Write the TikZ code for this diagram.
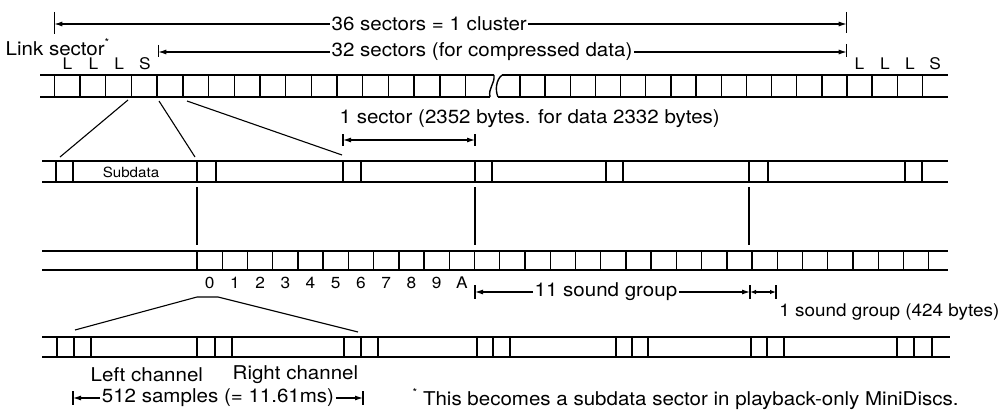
\documentclass[tikz,border=0pt]{standalone}
\usepackage{fontspec}
\setmainfont{TeX Gyre Heros}[FakeStretch=1.08]
\usetikzlibrary{arrows.meta}
\tikzset{
  ln/.style={line width=1.4pt},
  thin ln/.style={line width=1.1pt},
  tickmark/.style={line width=1.2pt},
  dimline/.style={line width=1.1pt,-{Latex[length=8pt,width=5pt]}},
  dimboth/.style={line width=1.1pt,{Latex[length=8pt,width=5pt]}-{Latex[length=8pt,width=5pt]}},
  dimsmall/.style={line width=1.1pt,{Latex[length=6pt,width=4.5pt]}-{Latex[length=6pt,width=4.5pt]}},
  lbl/.style={font=\fontsize{19}{21}\selectfont, inner sep=1.5pt},
  cell lbl/.style={font=\fontsize{16}{18}\selectfont, inner sep=0pt},
  sub lbl/.style={font=\fontsize{14}{16}\selectfont, inner sep=0pt},
}
\begin{document}
\begin{tikzpicture}[x=1pt,y=-1pt]
\useasboundingbox (0,0) rectangle (1003,412);

% ---------- top dimension arrows ----------
\node[lbl,anchor=west] (t36) at (330,24) {36 sectors = 1 cluster};
\coordinate (t36L) at (54.3,24);
\coordinate (t36R) at (846.7,24);
\draw[dimline] (t36.west) -- (t36L);
\draw[dimline] (t36.east) -- (t36R);
\draw[tickmark] (54.3,12) -- (54.3,34);
\draw[tickmark] (846.7,12) -- (846.7,33);

\node[lbl,anchor=west] (link) at (4,47) {Link sector\raisebox{0.45em}{\fontsize{11}{11}\selectfont *}};

\node[lbl,anchor=west] (t32) at (330,52) {32 sectors (for compressed data)};
\coordinate (t32L) at (158.3,52);
\coordinate (t32R) at (846.7,52);
\draw[dimline] (t32.west) -- (t32L);
\draw[dimline] (t32.east) -- (t32R);
\draw[tickmark] (158.3,45) -- (158.3,57);
\draw[tickmark] (846.7,44) -- (846.7,57);

% L L L S labels
\foreach \x/\t [count=\i] in {67.5/L,93.5/L,119.3/L,145/S,859.5/L,885/L,910/L,935/S}
  \node[cell lbl] (lab\i) at (\x,64) {\t};

% ---------- row 1 (sectors) ----------
\draw[ln] (40,75) -- (494,75);
\draw[ln] (40,97) -- (490,97);
\draw[ln] (502,75) -- (948,75);
\draw[ln] (498,97) -- (948,97);
\draw[ln] (494,75) .. controls (495,84) and (488,88) .. (490,97);
\draw[ln] (502,75) .. controls (496,80) and (495,90) .. (498,97);
\foreach \k in {0,...,16} \draw[ln] ({54.3+25.7*\k},75) -- ++(0,22);
\foreach \k in {0,...,16} \draw[ln] ({520+25.15*\k},75) -- ++(0,22);

% 1 sector label and arrow
\node[lbl,anchor=west] (t1s) at (338,119) {1 sector (2352 bytes. for data 2332 bytes)};
\coordinate (s1L) at (343,140);
\coordinate (s1R) at (475,140);
\draw[dimboth] (s1L) -- (s1R);
\draw[tickmark] (343,134) -- (343,146);
\draw[tickmark] (475,134) -- (475,146);

% ---------- expansion lines row1 -> row2 ----------
\coordinate (e1a) at (128,100); \coordinate (e1b) at (60,157);
\coordinate (e2a) at (159,101); \coordinate (e2b) at (195,157);
\coordinate (e3a) at (187,101); \coordinate (e3b) at (342,155);
\draw[thin ln] (e1a) -- (e1b);
\draw[thin ln] (e2a) -- (e2b);
\draw[thin ln] (e3a) -- (e3b);

% ---------- row 2 ----------
\draw[ln] (42,161) -- (948,161);
\draw[ln] (42,182) -- (948,182);
\foreach \x in {56,73,197,216,343,361,475,492,606,623,749,768,905,922}
  \draw[ln] (\x,161) -- (\x,182);
\node[sub lbl] (subd) at (131,172) {Subdata};

% verticals row 2 -> row 3
\foreach \x in {197,475,749}
  \draw[thin ln] (\x,187) -- (\x,245);

% ---------- row 3 (sound groups) ----------
\draw[ln] (42,251) -- (948,251);
\draw[ln] (42,270) -- (948,270);
\foreach \k in {0,...,29} \draw[ln] ({197+25.23*\k},251) -- ++(0,19);
\foreach \t [count=\i from 0] in {0,1,2,3,4,5,6,7,8,9,A}
  \node[cell lbl] (sg\i) at ({197+25.23*(\i+0.5)},283) {\t};

% 11 sound group arrow
\node[lbl,anchor=west] (t11) at (533,292) {11 sound group};
\coordinate (g11L) at (475,292);
\coordinate (g11R) at (750,292);
\draw[dimline] (t11.west) -- (g11L);
\draw[dimline] (t11.east) -- (g11R);
\draw[tickmark] (475,285) -- (475,299);
\draw[tickmark] (750,285) -- (750,299);
\draw[tickmark] (776,285) -- (776,299);
\coordinate (g1L) at (750,292);
\coordinate (g1R) at (776,292);
\draw[dimsmall] (g1L) -- (g1R);
\node[lbl,anchor=east,font=\fontsize{17.5}{20}\selectfont] (t1g) at (1001,312) {1 sound group (424 bytes)};

% trapezoid row3 -> row4
\coordinate (z1) at (75,330);
\coordinate (z2) at (197,297);
\coordinate (z3) at (218,297);
\coordinate (z4) at (358,332);
\draw[thin ln] (z1) -- (z2) -- (z3) -- (z4);

% ---------- row 4 ----------
\draw[ln] (42,337) -- (950,337);
\draw[ln] (42,357) -- (950,357);
\foreach \x in {57,74,91,197,215,232,344,361,378,477,493,510,616,632,648,751,767,784,897,914,932}
  \draw[ln] (\x,337) -- (\x,357);

\node[lbl,anchor=west] (lch) at (89,375) {Left channel};
\node[lbl,anchor=west] (rch) at (231,375) {Right channel};

% 512 samples arrow
\coordinate (m512L) at (73,398);
\coordinate (m512R) at (363,398);
\node[lbl] (t512) at (218,398) {512 samples (= 11.61ms)};
\draw[dimline] (t512.west) -- (m512L);
\draw[dimline] (t512.east) -- (m512R);
\draw[tickmark] (73,391) -- (73,405);
\draw[tickmark] (363,391) -- (363,405);

% footnote
\node[lbl,anchor=west] (fn) at (411,399) {\raisebox{0.45em}{\fontsize{11}{11}\selectfont *}\ This becomes a subdata sector in playback-only MiniDiscs.};
\end{tikzpicture}
\end{document}
